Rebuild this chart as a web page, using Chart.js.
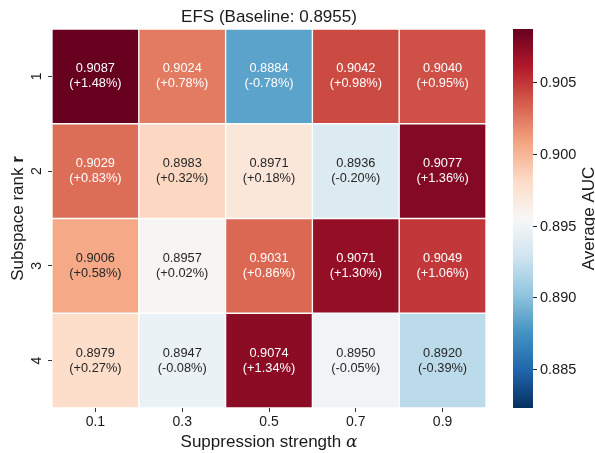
<!DOCTYPE html>
<html><head><meta charset="utf-8">
<script src="https://cdn.jsdelivr.net/npm/chart.js@4.4.1/dist/chart.umd.min.js"></script>
<style>html,body{margin:0;padding:0;background:#fff}#wrap{width:595px;height:453px}</style>
</head><body><div id="wrap"><canvas id="c" width="595" height="453"></canvas></div>
<script>
// ---- data ----
const alphas = ['0.1', '0.3', '0.5', '0.7', '0.9'];
const ranks = ['1', '2', '3', '4'];
const rank1AUC = [0.9087, 0.9024, 0.8884, 0.9042, 0.9040];
const rank2AUC = [0.9029, 0.8983, 0.8971, 0.8936, 0.9077];
const rank3AUC = [0.9006, 0.8957, 0.9031, 0.9071, 0.9049];
const rank4AUC = [0.8979, 0.8947, 0.9074, 0.8950, 0.8920];
const rank1Gain = ['+1.48%', '+0.78%', '-0.78%', '+0.98%', '+0.95%'];
const rank2Gain = ['+0.83%', '+0.32%', '+0.18%', '-0.20%', '+1.36%'];
const rank3Gain = ['+0.58%', '+0.02%', '+0.86%', '+1.30%', '+1.06%'];
const rank4Gain = ['+0.27%', '-0.08%', '+1.34%', '-0.05%', '-0.39%'];
const baselineAUC = 0.8955;
const colorMax = 0.9087;
const colorMin = 0.8823;
const colorbarTicks = [0.885, 0.890, 0.895, 0.900, 0.905];

const aucRows = [rank1AUC, rank2AUC, rank3AUC, rank4AUC];
const gainRows = [rank1Gain, rank2Gain, rank3Gain, rank4Gain];

// RdBu_r colormap
const RDBU_R = ['#053061','#2166ac','#4393c3','#92c5de','#d1e5f0','#f7f7f7','#fddbc7','#f4a582','#d6604d','#b2182b','#67001f'];
function hex2rgb(h){return [parseInt(h.slice(1,3),16),parseInt(h.slice(3,5),16),parseInt(h.slice(5,7),16)];}
function cmapRGB(v){
  let t=(v-colorMin)/(colorMax-colorMin); t=Math.max(0,Math.min(1,t));
  const p=t*10, i=Math.min(9,Math.floor(p)), f=p-i;
  const a=hex2rgb(RDBU_R[i]), b=hex2rgb(RDBU_R[i+1]);
  return a.map((c,k)=>Math.round(c+(b[k]-c)*f));
}
function cmap(v){const c=cmapRGB(v);return `rgb(${c[0]},${c[1]},${c[2]})`;}
function textColor(v){
  const c=cmapRGB(v).map(x=>{x/=255;return x<=0.03928?x/12.92:Math.pow((x+0.055)/1.055,2.4);});
  const lum=0.2126*c[0]+0.7152*c[1]+0.0722*c[2];
  return lum<0.408?'#ffffff':'#262626';
}

const FONT='"Liberation Sans", Arial, Helvetica, sans-serif';

const datasets = aucRows.map((row,r)=>({
  label: 'Rank '+ranks[r],
  data: row.map(()=>[r, r+1]),
  backgroundColor: row.map(cmap),
  borderColor: '#ffffff',
  borderWidth: 1,
  borderSkipped: false,
  grouped: false,
  barPercentage: 1,
  categoryPercentage: 1,
  xAxisID: 'x', yAxisID: 'y'
}));

const overlay = {
  id: 'overlay',
  afterDraw(chart){
    const ctx=chart.ctx, xs=chart.scales.x, ys=chart.scales.y, cb=chart.scales.cb;
    const area=chart.chartArea;
    ctx.save();
    // annotations
    ctx.textAlign='center'; ctx.textBaseline='middle';
    ctx.font='12.8px '+FONT;
    aucRows.forEach((row,r)=>{
      row.forEach((v,i)=>{
        const cx=xs.getPixelForValue(i), cy=ys.getPixelForValue(r+0.5);
        ctx.fillStyle=textColor(v);
        ctx.fillText(v.toFixed(4), cx, cy-7.5);
        ctx.fillText('('+gainRows[r][i]+')', cx, cy+7.5);
      });
    });
    // title
    ctx.fillStyle='#1a1a1a';
    ctx.font='17px '+FONT; ctx.textBaseline='alphabetic';
    ctx.fillText('EFS (Baseline: '+baselineAUC.toFixed(4)+')', (area.left+area.right)/2, 22);
    // x label with italic alpha
    const xl1='Suppression strength ', xl2='α';
    ctx.font='17px '+FONT; const w1=ctx.measureText(xl1).width;
    ctx.font='italic 17px "DejaVu Serif", serif'; const w2=ctx.measureText(xl2).width;
    let sx=(area.left+area.right)/2-(w1+w2)/2;
    ctx.textAlign='left';
    ctx.font='17px '+FONT; ctx.fillText(xl1, sx, 447);
    ctx.font='italic 17px "DejaVu Serif", serif'; ctx.fillText(xl2, sx+w1, 447);
    // y label with bold r
    const yl1='Subspace rank ', yl2='r';
    ctx.font='17px '+FONT; const v1=ctx.measureText(yl1).width;
    ctx.font='bold 17px '+FONT; const v2=ctx.measureText(yl2).width;
    ctx.save();
    ctx.translate(23, (area.top+area.bottom)/2);
    ctx.rotate(-Math.PI/2);
    let sy=-(v1+v2)/2;
    ctx.font='17px '+FONT; ctx.fillText(yl1, sy, 0);
    ctx.font='bold 17px '+FONT; ctx.fillText(yl2, sy+v1, 0);
    ctx.restore();
    // colorbar
    const bx0=513, bx1=533;
    const top=cb.getPixelForValue(colorMax), bot=cb.getPixelForValue(colorMin);
    const g=ctx.createLinearGradient(0,bot,0,top);
    RDBU_R.forEach((c,k)=>g.addColorStop(k/10,c));
    ctx.fillStyle=g; ctx.fillRect(bx0,top,bx1-bx0,bot-top);
    ctx.strokeStyle='#262626'; ctx.lineWidth=1;
    ctx.fillStyle='#1a1a1a'; ctx.font='14.5px '+FONT; ctx.textAlign='left'; ctx.textBaseline='middle';
    colorbarTicks.forEach(t=>{
      const y=Math.round(cb.getPixelForValue(t))+0.5;
      ctx.beginPath(); ctx.moveTo(bx1,y); ctx.lineTo(bx1+4,y); ctx.stroke();
      ctx.fillText(t.toFixed(3), bx1+7, y);
    });
    ctx.save();
    ctx.translate(594, (top+bot)/2); ctx.rotate(-Math.PI/2);
    ctx.textAlign='center'; ctx.textBaseline='alphabetic'; ctx.font='17px '+FONT;
    ctx.fillText('Average AUC', 0, 0);
    ctx.restore();
    ctx.restore();
  }
};

new Chart(document.getElementById('c'), {
  type: 'bar',
  data: { labels: alphas, datasets },
  options: {
    responsive: false,
    animation: false,
    devicePixelRatio: 1,
    layout: { padding: { top: 29, right: 109, left: 0, bottom: 0 } },
    plugins: { legend: { display: false }, tooltip: { enabled: false }, title: { display: false } },
    scales: {
      x: {
        type: 'category',
        offset: true,
        grid: { display: true, offset: false, drawOnChartArea: false, drawTicks: true, tickLength: 4, color: '#333333', tickColor: '#333333', lineWidth: 1 },
        border: { display: false },
        ticks: { font: { family: FONT, size: 14 }, color: '#1a1a1a', padding: 2, maxRotation: 0, minRotation: 0 },
        afterFit(s){ s.height = 45; }
      },
      y: {
        type: 'linear', min: 0, max: 4, reverse: true,
        afterBuildTicks(s){ s.ticks = [0.5,1.5,2.5,3.5].map(v=>({value:v})); },
        grid: { display: true, drawOnChartArea: false, drawTicks: true, tickLength: 4, color: '#333333', tickColor: '#333333', lineWidth: 1 },
        border: { display: false },
        ticks: { callback: (v)=>ranks[Math.floor(v)], minRotation: 90, maxRotation: 90, crossAlign: 'center', padding: 7, font: { family: FONT, size: 14 }, color: '#1a1a1a' },
        afterFit(s){ s.width = 52; }
      },
      cb: { type: 'linear', display: false, position: 'right', min: colorMin, max: colorMax }
    }
  },
  plugins: [overlay]
});
</script></body></html>
